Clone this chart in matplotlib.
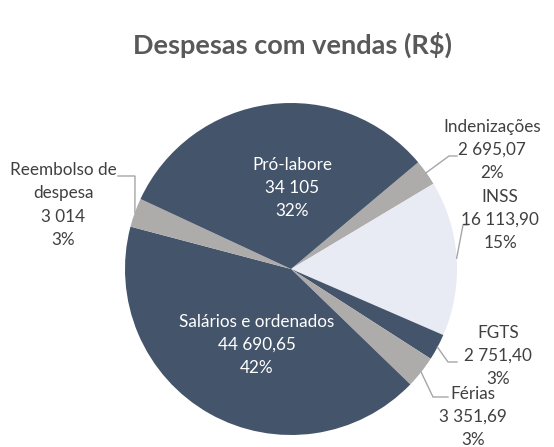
import numpy as np
import matplotlib
matplotlib.use("Agg")
import matplotlib.pyplot as plt

plt.rcParams['font.family'] = ['Lato', 'DejaVu Sans']

title = "Despesas com vendas (R$)"
categories = ["Indenizações", "INSS", "FGTS", "Férias", "Salários e ordenados",
              "Reembolso de\ndespesa", "Pró-labore"]
values = [2695.07, 16113.90, 2751.40, 3351.69, 44690.65, 3014, 34105]
value_labels = ["2 695,07", "16 113,90", "2 751,40", "3 351,69", "44 690,65", "3 014", "34 105"]
pct_labels = ["2%", "15%", "3%", "3%", "42%", "3%", "32%"]

DARK = "#44546A"
GRAY = "#AEABAB"
LIGHT = "#E8EAF4"
colors = [GRAY, LIGHT, DARK, GRAY, DARK, GRAY, DARK]

W, H = 554, 447
fig = plt.figure(figsize=(W / 100, H / 100), dpi=100)
ax = fig.add_axes([0, 0, 1, 1])

cx, cy, R = 291, H - 269, 166
start = 40  # matplotlib angle (deg, ccw from +x)
wedges, _ = ax.pie(values, colors=colors, startangle=start, counterclock=False,
                   center=(cx, cy), radius=R, frame=True,
                   wedgeprops=dict(linewidth=0))
ax.set_xlim(0, W)
ax.set_ylim(0, H)
ax.set_aspect('equal')
ax.axis('off')

# layout: label centre (image px)
label_pos = {
    0: (492, 150), 1: (500, 220), 2: (498, 356), 3: (473, 417),
    4: (257, 345), 5: (63, 205), 6: (292, 188),
}
inside = {4, 6}
# leader polyline points (elbow, end) in image px
leaders = {
    0: [(449, 156), (457, 156)],
    1: [(463, 225), (468, 225)],
    2: [(448, 362), (457, 362)],
    3: [(433, 397), (448, 397)],
    5: [(135, 176), (118, 176)],
}

fs = 12.3
for i, w in enumerate(wedges):
    name = categories[i]
    txt = f"{name}\n{value_labels[i]}\n{pct_labels[i]}"
    x, y = label_pos[i]
    col = "white" if i in inside else "#404040"
    ax.text(x, H - y, txt, ha='center', va='center', fontsize=fs, color=col,
            linespacing=1.55)
    if i in leaders:
        mid = np.deg2rad((w.theta1 + w.theta2) / 2)
        sx = cx + R * np.cos(mid)
        sy = cy + R * np.sin(mid)
        pts = [(sx, sy)] + [(px, H - py) for px, py in leaders[i]]
        xs, ys = zip(*pts)
        ax.plot(xs, ys, color="#A6A6A6", lw=1.0, solid_joinstyle='miter')

fig.text(292 / W, 1 - 45 / H, title, ha='center', va='center', fontsize=19.5,
         fontweight='bold', color="#595959")

fig.savefig("out.png", dpi=100, facecolor="white")
